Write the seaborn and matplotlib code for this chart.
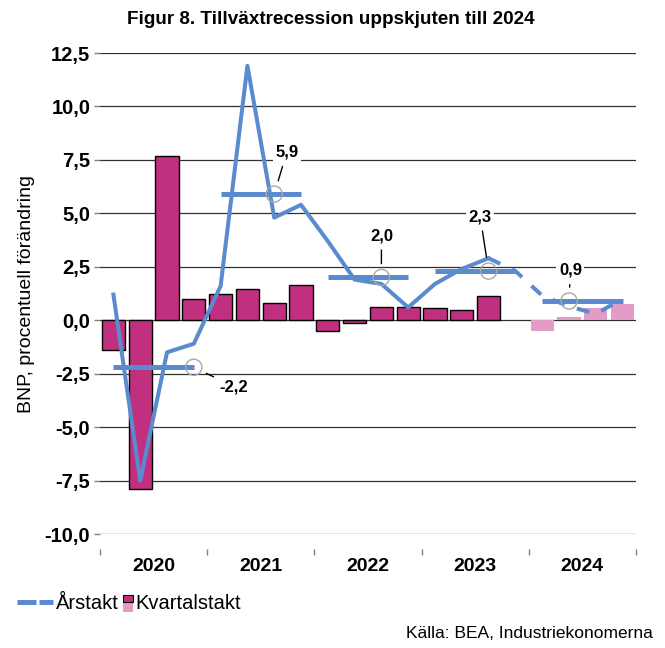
import numpy as np
import pandas as pd
import matplotlib
matplotlib.use('Agg')
import matplotlib.pyplot as plt
import seaborn as sns
from matplotlib.lines import Line2D
from matplotlib.patches import Patch, Rectangle
from matplotlib.legend_handler import HandlerPatch, HandlerTuple

# --- data ---
years = ['2020', '2021', '2022', '2023', '2024']
quarters = [f'{y}K{q}' for y in years for q in range(1, 5)]

# Kvartalstakt (bars), NaN = no bar; last four are forecasts
kvartal = [-1.4, -7.9, 7.7, 1.0, 1.25, 1.45, 0.8, 1.65,
           -0.5, -0.15, 0.6, 0.6, 0.55, 0.5, 1.15, np.nan,
           -0.5, 0.15, 0.55, 0.75]
kvartal_prognos = [False] * 16 + [True] * 4

# Årstakt (line), outcome up to 2023K3 then forecast
arstakt_utfall = [1.2, -7.5, -1.5, -1.1, 1.6, 11.9, 4.8, 5.4,
                  3.7, 1.9, 1.7, 0.6, 1.7, 2.4, 2.9]
arstakt_prognos = [2.9, 2.3, 1.15, 0.65, 0.3, 1.0]

# yearly averages (horizontal bars + labels)
arsmedel = [-2.2, 5.9, 2.0, 2.3, 0.9]
arsmedel_text = ['-2,2', '5,9', '2,0', '2,3', '0,9']

yticks = [-10.0, -7.5, -5.0, -2.5, 0.0, 2.5, 5.0, 7.5, 10.0, 12.5]

# --- colours ---
mork = '#C1307F'
ljus = '#E39CC6'
bla = '#5B8BCF'

plt.rcParams['font.family'] = ['Liberation Sans', 'DejaVu Sans']

df = pd.DataFrame({'kvartal': quarters, 'varde': kvartal,
                   'typ': ['Prognos' if p else 'Utfall' for p in kvartal_prognos]})
df_bar = df.dropna()

fig = plt.figure(figsize=(6.65, 6.48), dpi=100)
ax = fig.add_axes([0.1504, 0.1759, 0.806, 0.7423])

sns.barplot(data=df_bar, x='kvartal', y='varde', hue='typ', order=quarters,
            hue_order=['Utfall', 'Prognos'], palette={'Utfall': mork, 'Prognos': ljus},
            saturation=1, dodge=False, width=0.87, legend=False, ax=ax, zorder=2)
for p in ax.patches:
    if matplotlib.colors.to_hex(p.get_facecolor()).upper() == mork.upper():
        p.set_edgecolor('black')
        p.set_linewidth(1.0)
    else:
        p.set_edgecolor('none')

x = np.arange(len(quarters))
sns.lineplot(x=x[:len(arstakt_utfall)], y=arstakt_utfall, color=bla, lw=2.9,
             ax=ax, zorder=4)
xp = x[len(arstakt_utfall) - 1:]
sns.lineplot(x=xp, y=arstakt_prognos, color=bla, lw=2.9, ax=ax, zorder=4)
ax.lines[-1].set_dashes((3.2, 3.2))

# yearly averages
ankare = [3, 6, 10, 14, 17]
offset = [(29, -14), (9, 30), (0, 30), (-6, 39), (1, 22)]
for i, (v, t) in enumerate(zip(arsmedel, arsmedel_text)):
    ax.plot([4 * i, 4 * i + 3], [v, v], color=bla, lw=3.6,
            solid_capstyle='butt', zorder=5)
    ax.scatter([ankare[i]], [v], s=135, facecolors='none',
               edgecolors='#A8A8A8', linewidths=1.0, zorder=6)
    ax.annotate(t, xy=(ankare[i], v), xytext=offset[i], textcoords='offset points',
                ha='center', va='center', fontsize=12, fontweight='bold',
                bbox=dict(boxstyle='square,pad=0.15', fc='white', ec='none'),
                arrowprops=dict(arrowstyle='-', color='black', lw=1.0,
                                shrinkA=3, shrinkB=10),
                zorder=7)

# axes formatting
ax.set_ylim(-10, 12.5)
ax.set_xlim(-0.5, 19.5)
ax.set_yticks(yticks)
ax.set_yticklabels([f'{v:.1f}'.replace('.', ',') for v in yticks],
                   fontsize=14.5, fontweight='bold')
ax.tick_params(axis='y', length=4, width=1, color='#808080', pad=3)
ax.grid(axis='y', color='#303030', lw=0.9, zorder=0)
ax.set_axisbelow(True)
for s in ax.spines.values():
    s.set_visible(False)
ax.spines['bottom'].set_position(('outward', 11))

ax.set_xticks(np.arange(-0.5, 20, 4))
ax.set_xticklabels([])
ax.set_xticks(np.arange(1.5, 20, 4), minor=True)
ax.set_xticklabels(years, minor=True, fontsize=14, fontweight='bold')
ax.tick_params(axis='x', which='major', length=4, width=1, color='#808080')
ax.tick_params(axis='x', which='minor', length=0, pad=6)
ax.set_xlabel('')
ax.set_ylabel('BNP, procentuell förändring', fontsize=14, labelpad=7)

fig.suptitle('Figur 8. Tillväxtrecession uppskjuten till 2024', x=0.497, y=0.983,
             fontsize=13.6, fontweight='bold')


def smal_patch(legend, orig_handle, xdescent, ydescent, width, height, fontsize):
    w = 7
    if orig_handle.get_gid() == 'topp':
        return Rectangle((width - w - xdescent, -ydescent + height * 0.55), w, height * 0.45)
    return Rectangle((width - w - xdescent, -ydescent - 2), w, height * 0.55 + 2)


h1 = Line2D([], [], color=bla, lw=3.6, dashes=(3.8, 0.6, 2.8, 1))
h2 = Patch(facecolor=ljus, edgecolor='none')
h3 = Patch(facecolor=mork, edgecolor='black', linewidth=0.8, gid='topp')
fig.legend([h1, (h2, h3)], ['Årstakt', 'Kvartalstakt'],
           handler_map={Patch: HandlerPatch(patch_func=smal_patch),
                        tuple: HandlerTuple(ndivide=1)},
           loc='center left', bbox_to_anchor=(0.026, 0.068), ncol=2, frameon=False,
           fontsize=14.5, handlelength=1.8, handletextpad=0.12, columnspacing=-1.1,
           borderpad=0, borderaxespad=0)

fig.text(0.982, 0.022, 'Källa: BEA, Industriekonomerna', ha='right', va='center',
         fontsize=12.5)

fig.savefig('out.png', dpi=100)
